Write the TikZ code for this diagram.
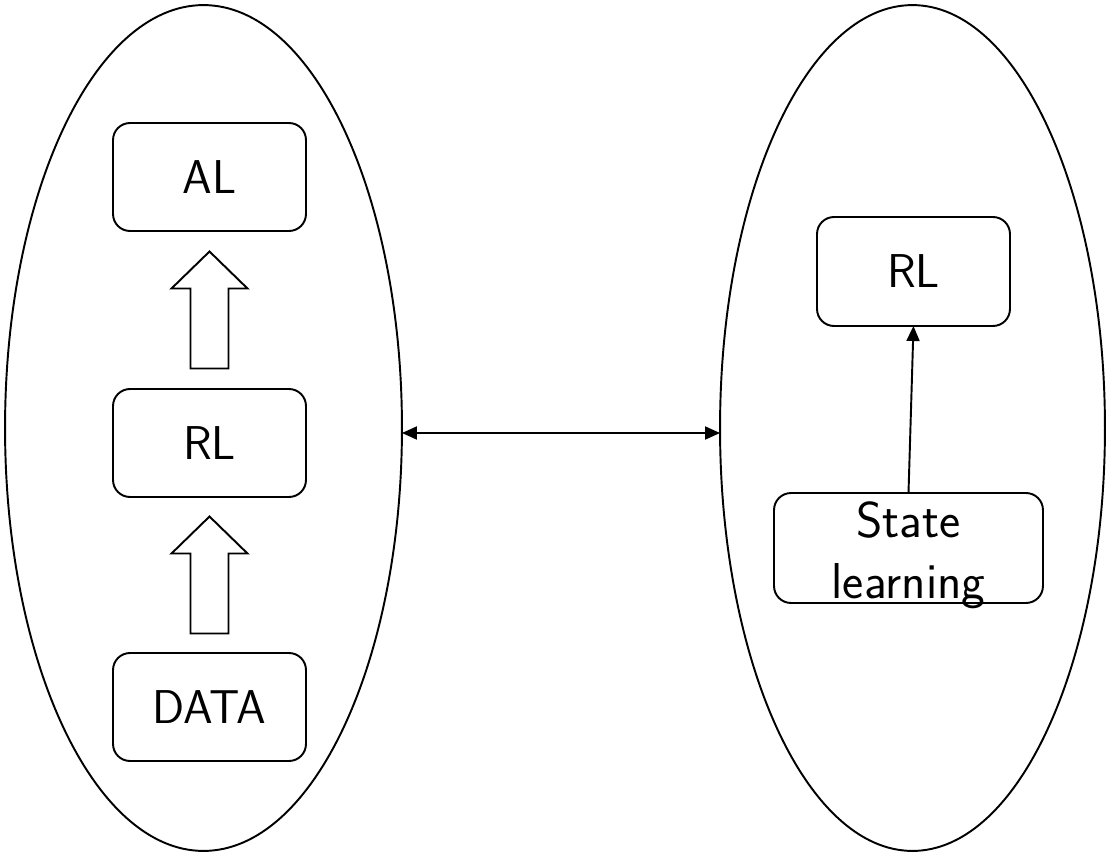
\documentclass[tikz,border=0pt]{standalone}
\usetikzlibrary{shapes.geometric,arrows.meta,calc}
\tikzset{hollowup/.pic={
    \draw (-19,58.5) -- (-19,-21.5) -- (-38,-21.5) -- (0,-58.5) -- (38,-21.5) -- (19,-21.5) -- (19,58.5) -- cycle;
  }}
\begin{document}
\begin{tikzpicture}[x=0.02cm, y=-0.02cm, line width=1.1pt,
    >={Triangle[length=0.3cm, width=0.26cm]},
    box/.style={draw, rounded corners=0.34cm, minimum width=3.86cm, minimum height=2.16cm, inner sep=0, outer sep=0, font=\sffamily\fontsize{27}{30}\selectfont},
    group/.style={draw, ellipse, inner sep=0, outer sep=0, minimum height=16.92cm}]
  \useasboundingbox (0,0) rectangle (1107,856);

  % the two groups
  \node[group, minimum width=7.94cm] (left-e) at (203.5,428) {};
  \node[group, minimum width=7.7cm] (right-e) at (912.5,428) {};

  % left stack
  \node[box] (al-box) at (209.5,177) {AL};
  \node[box] (rl-box) at (209.5,443) {RL};
  \node[box] (data-box) at (209.5,707) {DATA};

  \pic (up-a) at ($(rl-box.north)!0.5!(al-box.south)$) {hollowup};
  \pic (up-b) at ($(data-box.north)!0.5!(rl-box.south)$) {hollowup};

  % right stack
  \node[box, minimum height=2.18cm] (rl-r) at (913.5,271.5) {RL};
  \node[box, minimum width=5.38cm, minimum height=2.2cm,
    label={[name=state-text, align=center, yshift=-0.14cm, font=\sffamily\fontsize{28.7}{34.7}\selectfont]center:{State\\learning}}] (state-box) at (908.5,548) {};

  \draw[->] (state-box.north) -- (rl-r.south);

  % link between the groups
  \draw[<->] ([yshift=-0.1cm]left-e.east) -- ([yshift=-0.1cm]right-e.west);
\end{tikzpicture}
\end{document}
